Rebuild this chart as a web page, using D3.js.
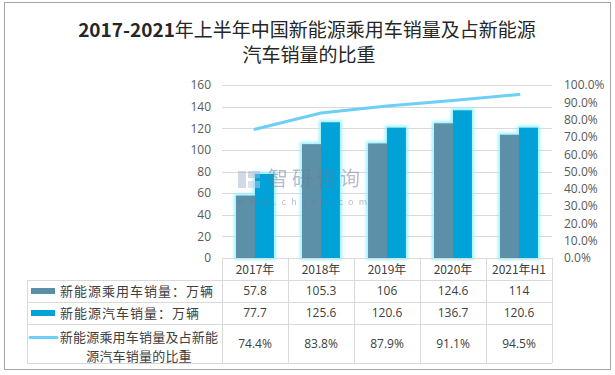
<!DOCTYPE html>
<html>
<head>
<meta charset="utf-8">
<script src="https://cdn.jsdelivr.net/npm/d3@7"></script>
<style>
  body { margin: 0; background: #fff; }
  text { font-family: "Noto Sans CJK SC", "Noto Sans", sans-serif; }
</style>
</head>
<body>
<div id="container"></div>
<script>
let w = 615;
let h = 375;

// data
let categories = ["2017年", "2018年", "2019年", "2020年", "2021年H1"];
let passengerSales = [57.8, 105.3, 106, 124.6, 114];
let nevSales = [77.7, 125.6, 120.6, 136.7, 120.6];
let shareValues = [74.4, 83.8, 87.9, 91.1, 94.5];
let seriesNames = ["新能源乘用车销量：万辆", "新能源汽车销量：万辆", "新能源乘用车销量及占新能源汽车销量的比重"];
let titleYears = "2017-2021";
let titleLines = ["年上半年中国新能源乘用车销量及占新能源", "汽车销量的比重"];

let colors = ["#5b8fa8", "#00a2d8", "#6dcff6"];

let viz = d3.select("#container").append("svg")
    .attr("width", w)
    .attr("height", h)
    .style("display", "block")
;

// glow for bars
let defs = viz.append("defs");
let glow = defs.append("filter").attr("id", "glow")
    .attr("x", "-30%").attr("y", "-10%").attr("width", "160%").attr("height", "120%");
glow.append("feMorphology").attr("in", "SourceAlpha").attr("operator", "dilate").attr("radius", 1.5).attr("result", "d");
glow.append("feGaussianBlur").attr("in", "d").attr("stdDeviation", 1.6).attr("result", "b");
glow.append("feFlood").attr("flood-color", "#8ff2ff").attr("flood-opacity", 0.9);
glow.append("feComposite").attr("in2", "b").attr("operator", "in").attr("result", "g");
let merge = glow.append("feMerge");
merge.append("feMergeNode").attr("in", "g");
merge.append("feMergeNode").attr("in", "SourceGraphic");

// outer border
viz.append("rect")
    .attr("x", 4.5).attr("y", 2.5).attr("width", 606).attr("height", 367)
    .attr("fill", "none").attr("stroke", "#a6a6a6");

// title
let titleX = 307;
let t1 = viz.append("text")
    .attr("x", titleX).attr("y", 37)
    .attr("text-anchor", "middle")
    .attr("font-size", 19)
    .attr("fill", "#262626");
t1.append("tspan").attr("font-weight", "bold").text(titleYears);
t1.append("tspan").attr("font-weight", "normal").text(titleLines[0]);
viz.append("text")
    .attr("x", titleX + 2).attr("y", 62)
    .attr("text-anchor", "middle")
    .attr("font-size", 19)
    .attr("font-weight", "normal")
    .attr("fill", "#262626")
    .text(titleLines[1]);

// scales
let plotLeft = 222, plotRight = 552, plotTop = 85, plotBottom = 258;
let xScale = d3.scaleBand().domain(categories).range([plotLeft, plotRight]);
let yScale = d3.scaleLinear().domain([0, 160]).range([plotBottom, plotTop]);
let y2Scale = d3.scaleLinear().domain([0, 1]).range([plotBottom, plotTop]);
let xInner = d3.scaleBand().domain([0, 1]).range([0, xScale.bandwidth()]).paddingOuter(0.74).paddingInner(0);

// gridlines
viz.append("g").selectAll("line").data(yScale.ticks(8).filter(d => d > 0)).enter()
  .append("line")
    .attr("x1", plotLeft).attr("x2", plotRight)
    .attr("y1", d => Math.round(yScale(d)) + 0.5).attr("y2", d => Math.round(yScale(d)) + 0.5)
    .attr("stroke", "#d9d9d9")
;

// left axis
let yAxis = d3.axisLeft(yScale).ticks(8).tickSize(0).tickPadding(0);
let yAxisGroup = viz.append("g")
    .attr("transform", "translate(211,0)")
    .call(yAxis);
yAxisGroup.select(".domain").remove();
yAxisGroup.selectAll("text")
    .attr("font-size", 12).attr("fill", "#595959")
    .style("font-family", "'Open Sans', 'Noto Sans', sans-serif");

// right axis
let y2Axis = d3.axisRight(y2Scale).ticks(10).tickFormat(d3.format(".1%")).tickSize(0).tickPadding(0);
let y2AxisGroup = viz.append("g")
    .attr("transform", "translate(564,0)")
    .call(y2Axis);
y2AxisGroup.select(".domain").remove();
y2AxisGroup.selectAll("text")
    .attr("font-size", 12).attr("fill", "#595959")
    .style("font-family", "'Open Sans', 'Noto Sans', sans-serif");

// bars
let barSeries = [passengerSales, nevSales];
let barGroup = viz.append("g").attr("filter", "url(#glow)");
barSeries.forEach((values, s) => {
  barGroup.selectAll(".bar" + s).data(values).enter()
    .append("rect")
      .attr("class", "bar" + s)
      .attr("x", (d, i) => xScale(categories[i]) + xInner(s))
      .attr("y", d => yScale(d))
      .attr("width", xInner.bandwidth())
      .attr("height", d => plotBottom - yScale(d))
      .attr("fill", colors[s])
  ;
});

// watermark
let wm = viz.append("g").attr("opacity", 0.5);
wm.append("rect").attr("x", 238).attr("y", 171).attr("width", 8).attr("height", 17).attr("fill", "#a9b3d0");
wm.append("rect").attr("x", 248).attr("y", 171).attr("width", 12).attr("height", 7).attr("fill", "#a9b3d0");
wm.append("rect").attr("x", 248).attr("y", 181).attr("width", 12).attr("height", 7).attr("fill", "#c4cde0");
wm.append("text").attr("x", 268).attr("y", 186).attr("font-size", 20).attr("fill", "#6f7b95")
    .attr("letter-spacing", 4).text("智研咨询");
wm.append("text").attr("x", 237).attr("y", 205).attr("font-size", 9).attr("fill", "#6f7b95")
    .attr("letter-spacing", 5.2).text("www.chyxx.com");

// line
let line = d3.line()
    .x((d, i) => xScale(categories[i]) + xScale.bandwidth() / 2)
    .y(d => y2Scale(d / 100));
viz.append("path")
    .datum(shareValues)
    .attr("d", line)
    .attr("fill", "none")
    .attr("stroke", colors[2])
    .attr("stroke-width", 3)
    .attr("stroke-linecap", "round")
;

// data table
let tableLeft = 27;
let rowEdges = [258, 280, 302, 324, 363];
let colEdges = categories.map(c => xScale(c)).concat([plotRight]);
let tableRows = [
  passengerSales.map(d => String(d)),
  nevSales.map(d => String(d)),
  shareValues.map(d => d.toFixed(1) + "%")
];
let tbl = viz.append("g").attr("stroke", "#d9d9d9").attr("stroke-width", 1);
// horizontal lines
rowEdges.forEach((y, i) => {
  tbl.append("line")
    .attr("x1", i === 0 ? plotLeft : tableLeft).attr("x2", plotRight)
    .attr("y1", y + 0.5).attr("y2", y + 0.5);
});
// vertical lines
colEdges.forEach(x => {
  tbl.append("line").attr("x1", x + 0.5).attr("x2", x + 0.5).attr("y1", rowEdges[0]).attr("y2", rowEdges[4]);
});
tbl.append("line").attr("x1", tableLeft + 0.5).attr("x2", tableLeft + 0.5).attr("y1", rowEdges[1]).attr("y2", rowEdges[4]);

// header text
viz.selectAll(".cat").data(categories).enter()
  .append("text")
    .attr("class", "cat")
    .attr("x", d => xScale(d) + xScale.bandwidth() / 2)
    .attr("y", 274)
    .attr("text-anchor", "middle")
    .attr("font-size", 12)
    .attr("fill", "#404040")
    .text(d => d)
;

// value cells
tableRows.forEach((row, r) => {
  let cy = (rowEdges[r + 1] + rowEdges[r + 2]) / 2 + 4;
  viz.selectAll(".cell" + r).data(row).enter()
    .append("text")
      .attr("x", (d, i) => xScale(categories[i]) + xScale.bandwidth() / 2)
      .attr("y", cy)
      .attr("text-anchor", "middle")
      .attr("font-size", 12)
      .attr("fill", "#404040")
      .style("font-family", "'Open Sans', 'Noto Sans', sans-serif")
      .text(d => d)
  ;
});

// legend cells
[0, 1].forEach(s => {
  let cy = (rowEdges[s + 1] + rowEdges[s + 2]) / 2;
  viz.append("rect").attr("x", 31).attr("y", cy - 3).attr("width", 24).attr("height", 6).attr("fill", colors[s]);
  viz.append("text")
    .attr("x", 60).attr("y", cy + 5)
    .attr("font-size", 13).attr("letter-spacing", 1).attr("fill", "#404040")
    .text(seriesNames[s]);
});
let ly = (rowEdges[3] + rowEdges[4]) / 2;
viz.append("line").attr("x1", 30).attr("x2", 57).attr("y1", ly - 6).attr("y2", ly - 6)
    .attr("stroke", colors[2]).attr("stroke-width", 3).attr("stroke-linecap", "round");
let legendLines = [seriesNames[2].slice(0, 12), seriesNames[2].slice(12)];
viz.selectAll(".leg3").data(legendLines).enter()
  .append("text")
    .attr("x", 139)
    .attr("y", (d, i) => ly - 2 + i * 19)
    .attr("text-anchor", "middle")
    .attr("font-size", 13).attr("letter-spacing", 0.2).attr("fill", "#404040")
    .text(d => d)
;
</script>
</body>
</html>
